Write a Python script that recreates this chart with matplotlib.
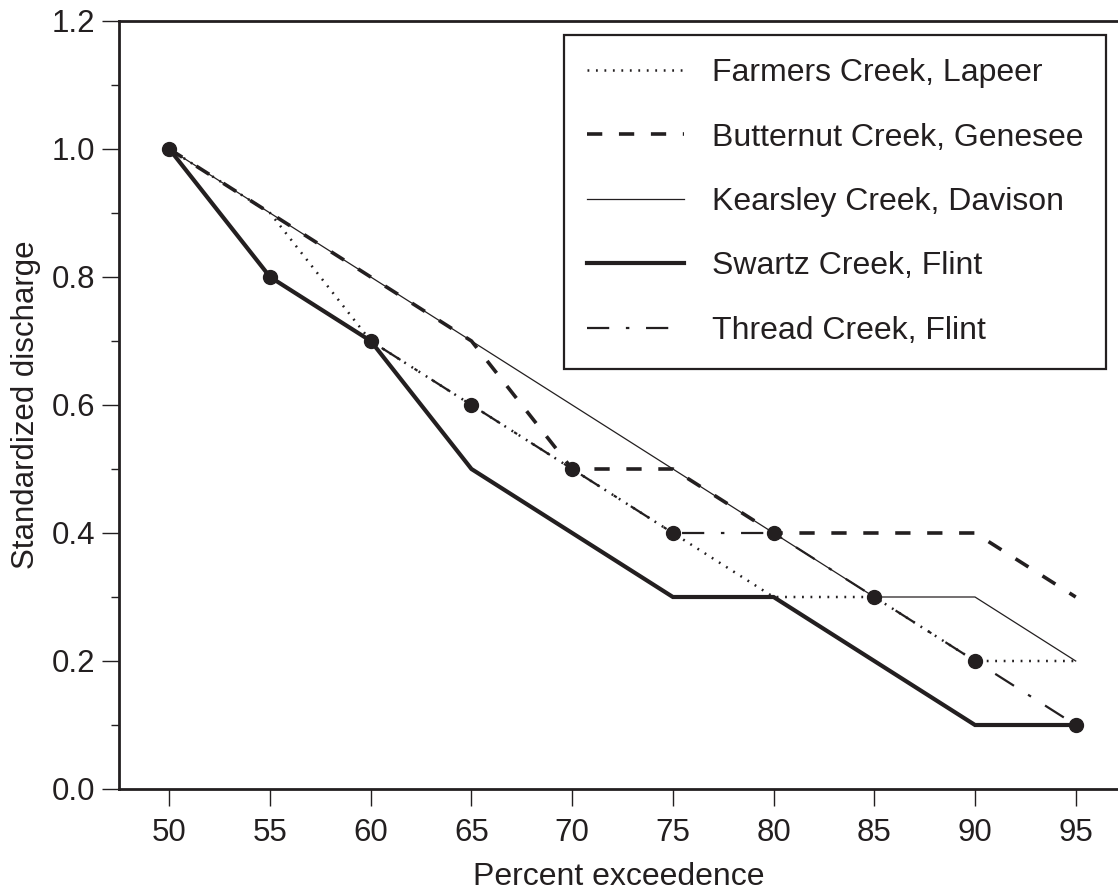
import matplotlib
matplotlib.use("Agg")
import matplotlib.pyplot as plt

plt.rcParams['font.family'] = ['Liberation Sans', 'DejaVu Sans']
plt.rcParams['lines.scale_dashes'] = False

INK = '#231f20'

percent = [50, 55, 60, 65, 70, 75, 80, 85, 90, 95]
farmers = [1.0, 0.9, 0.7, 0.6, 0.5, 0.4, 0.3, 0.3, 0.2, 0.2]
butternut = [1.0, 0.9, 0.8, 0.7, 0.5, 0.5, 0.4, 0.4, 0.4, 0.3]
kearsley = [1.0, 0.9, 0.8, 0.7, 0.6, 0.5, 0.4, 0.3, 0.3, 0.2]
swartz = [1.0, 0.8, 0.7, 0.5, 0.4, 0.3, 0.3, 0.2, 0.1, 0.1]
thread = [1.0, 0.8, 0.7, 0.6, 0.5, 0.4, 0.4, 0.3, 0.2, 0.1]

labels = ["Farmers Creek, Lapeer", "Butternut Creek, Genesee",
          "Kearsley Creek, Davison", "Swartz Creek, Flint", "Thread Creek, Flint"]
xticks = [50, 55, 60, 65, 70, 75, 80, 85, 90, 95]
yticks = [0.0, 0.2, 0.4, 0.6, 0.8, 1.0, 1.2]

fig = plt.figure(figsize=(11.18, 8.93), dpi=100)
ax = fig.add_axes([119/1118, 1 - 789/893, 1 - 119/1118, (789 - 21)/893])

ax.plot(percent, swartz, color=INK, lw=3.0, solid_joinstyle='miter', label=labels[3])
ax.plot(percent, kearsley, color=INK, lw=0.9, label=labels[2])
ax.plot(percent, butternut, color=INK, lw=2.6, dashes=(11, 12), label=labels[1])
ax.plot(percent, farmers, color=INK, lw=1.8, dashes=(1.3, 4.8), label=labels[0])
ax.plot(percent, thread, color=INK, lw=1.6, dashes=(16, 12, 2.5, 12), label=labels[4])
ax.plot(percent, thread, linestyle='none', marker='o', markersize=10,
        color=INK, label='_nolegend_')

ax.set_xlim(47.5, 97.1)
ax.set_ylim(0, 1.2)
ax.set_xticks(xticks)
ax.set_xticklabels([str(v) for v in xticks])
ax.set_yticks(yticks)
ax.set_yticklabels([f"{v:.1f}" for v in yticks])
ax.set_yticks([0.1, 0.3, 0.5, 0.7, 0.9, 1.1], minor=True)

for s in ['left', 'bottom', 'top']:
    ax.spines[s].set_linewidth(2.0)
    ax.spines[s].set_color(INK)
ax.spines['right'].set_visible(False)

ax.tick_params(axis='both', which='major', direction='out', length=12, width=1.0,
               color=INK, labelsize=22.5, labelcolor=INK)
ax.tick_params(axis='x', pad=9)
ax.tick_params(axis='y', pad=5)
ax.tick_params(axis='y', which='minor', direction='out', length=6, width=1.0, color=INK)

ax.set_xlabel("Percent exceedence", fontsize=23, color=INK, labelpad=10)
ax.set_ylabel("Standardized discharge", fontsize=22.5, color=INK, labelpad=8)

handles, labs = ax.get_legend_handles_labels()
order = [labs.index(l) for l in labels]
leg = ax.legend([handles[i] for i in order], [labs[i] for i in order],
                loc='upper right', bbox_to_anchor=(1106/1118, 1 - 35/893),
                bbox_transform=fig.transFigure, borderaxespad=0,
                fontsize=23, frameon=True, fancybox=False, framealpha=1,
                handlelength=3.05, handletextpad=0.85, labelspacing=1.08,
                borderpad=0.72)
leg.get_frame().set_edgecolor(INK)
leg.get_frame().set_linewidth(1.6)
for t in leg.get_texts():
    t.set_color(INK)

fig.savefig("out.png", dpi=100)
